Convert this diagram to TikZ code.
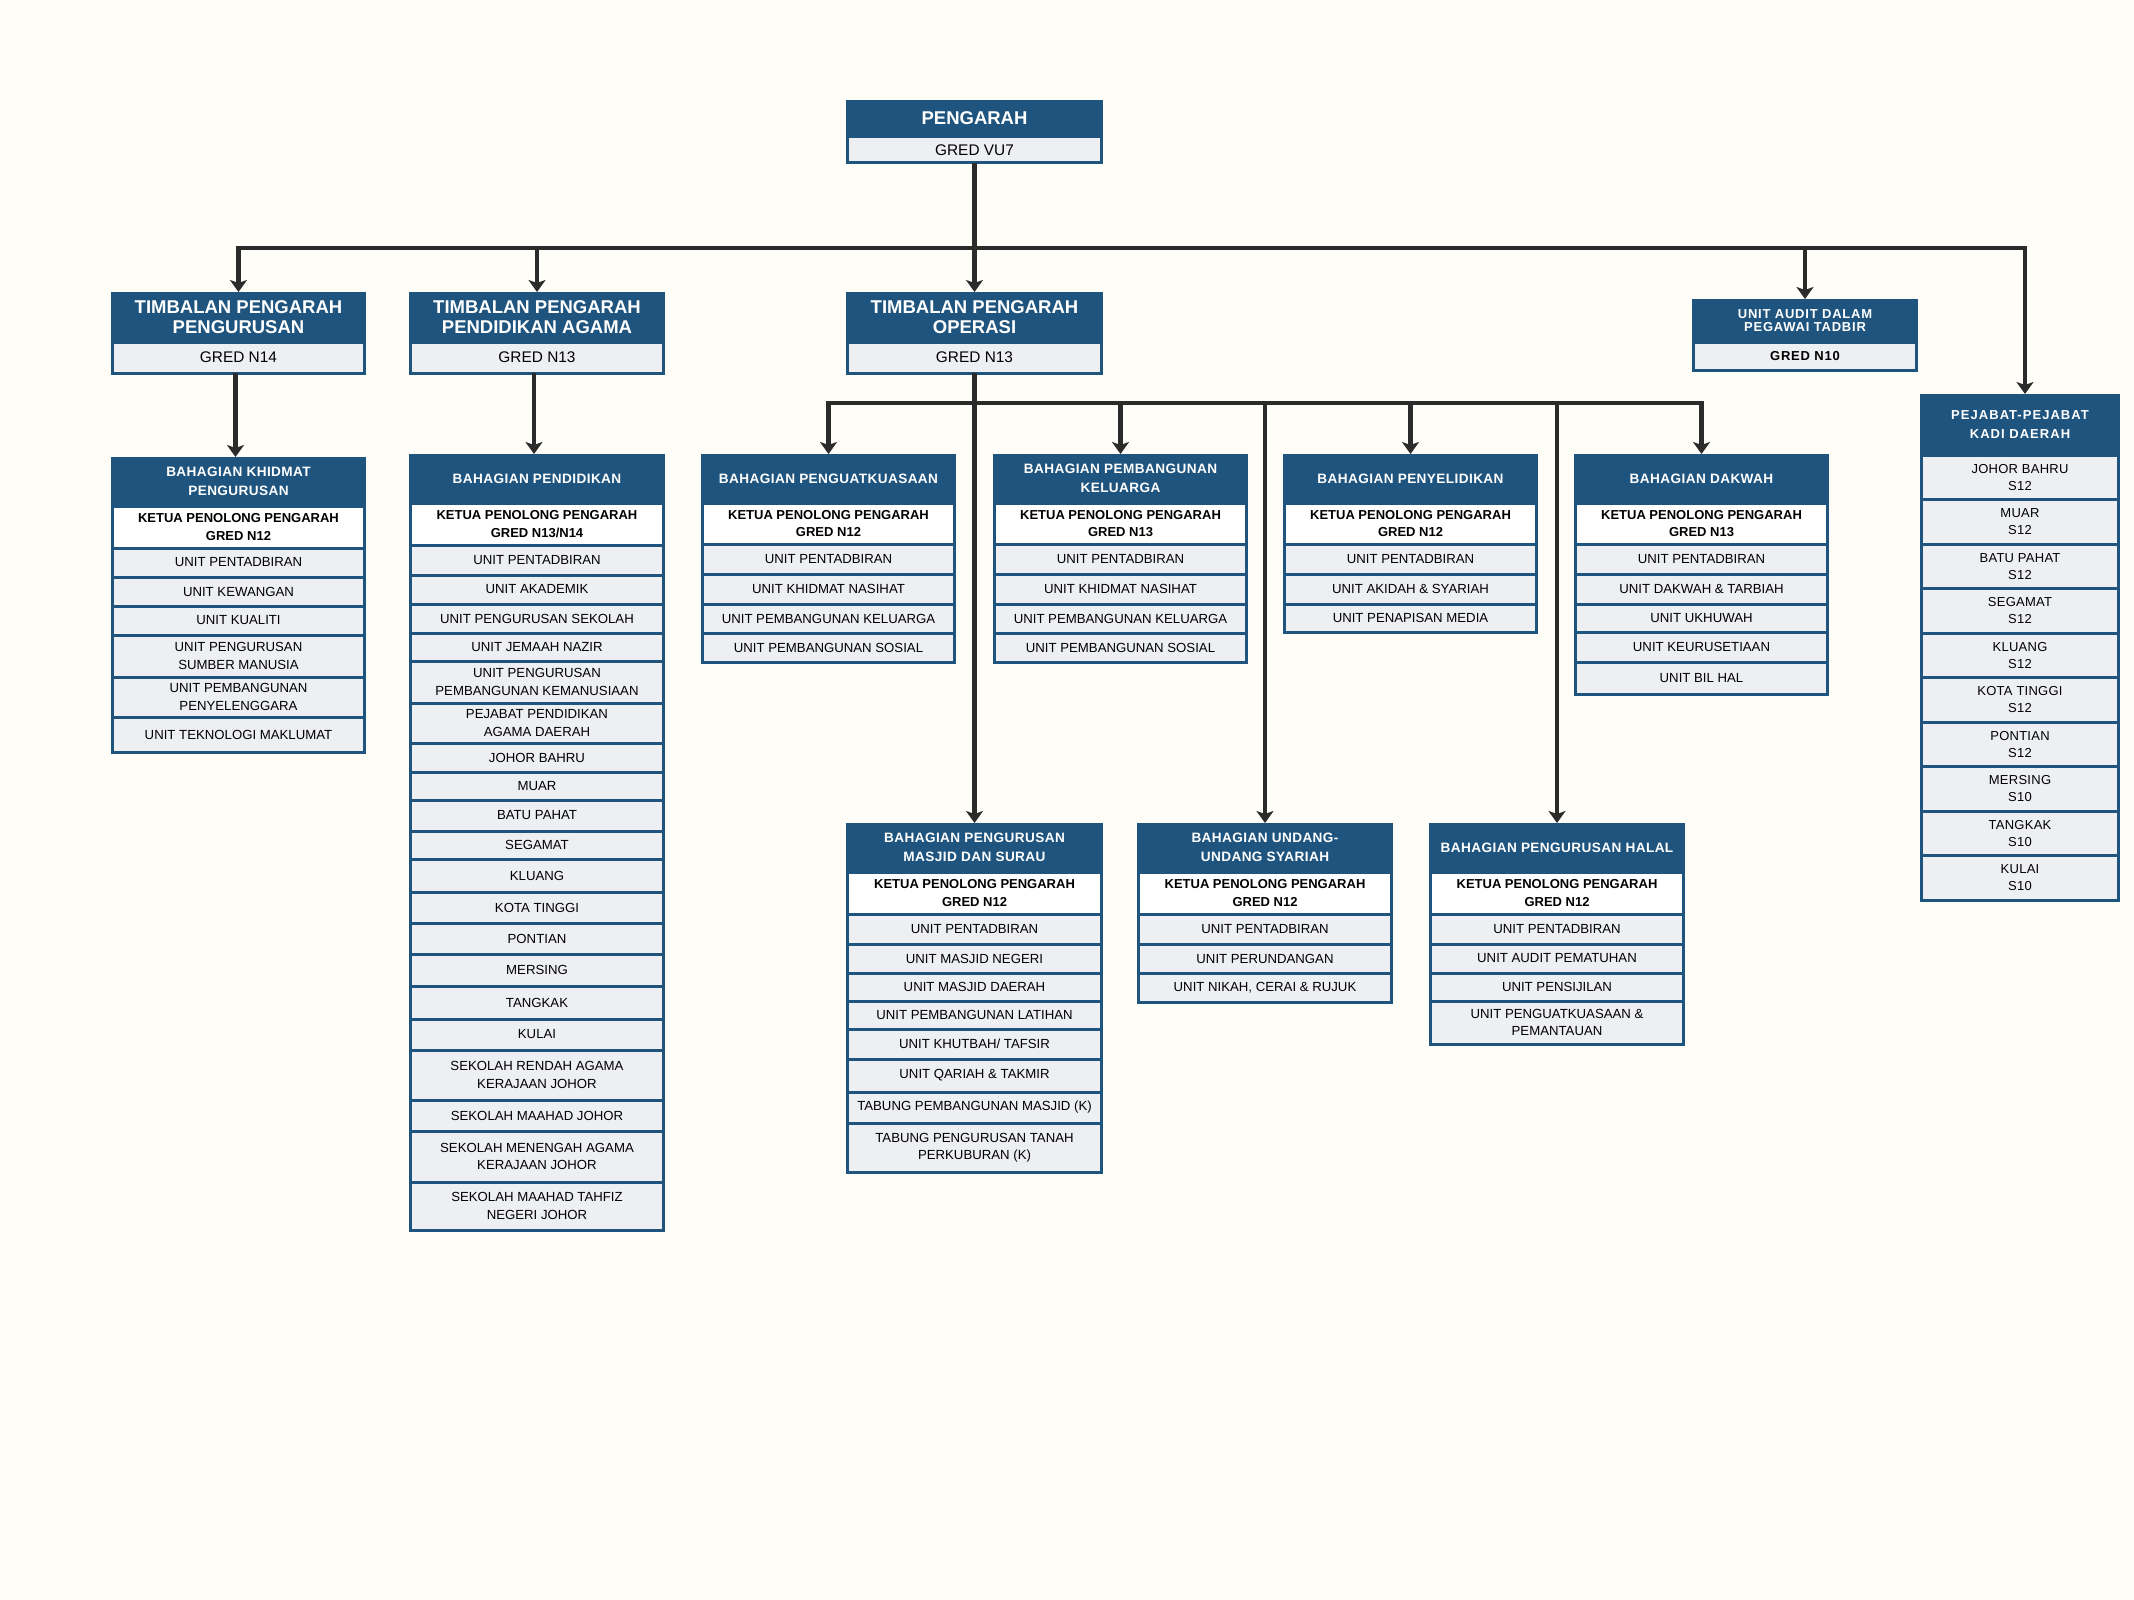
\documentclass[tikz,border=0pt]{standalone}
\usepackage{fontspec}
\setmainfont{Liberation Sans}
\usetikzlibrary{arrows.meta}
\definecolor{dblue}{HTML}{1E547E}
\definecolor{rowgray}{HTML}{EEEFF2}
\definecolor{bgc}{HTML}{FFFDF7}
\definecolor{lnc}{HTML}{2B2B2B}
\newcommand\ftop{\fontsize{18.5}{20}\selectfont\bfseries}
\newcommand\fgred{\fontsize{15.4}{17}\selectfont}
\newcommand\fdiv{\fontsize{13.6}{19.5}\selectfont\bfseries\addfontfeature{LetterSpace=3}}
\newcommand\fket{\fontsize{13}{17.5}\selectfont\bfseries}
\newcommand\frow{\fontsize{13.2}{17.5}\selectfont}
\newcommand\fsm{\fontsize{13}{13.5}\selectfont\bfseries\addfontfeature{LetterSpace=6}}
\newcommand\fkh{\fontsize{13}{19}\selectfont\bfseries\addfontfeature{LetterSpace=8}}
\newcommand\fkadi{\fontsize{13}{17}\selectfont\addfontfeature{LetterSpace=2}}
\newcommand\rowcell[7]{\node[#1, minimum width={(#4-#3-3)*1pt}, minimum height={(#6-#5)*1pt}] (#2) at ({(#3+#4)/2},{(#5+#6)/2}) {#7};}
\newcommand\hdcell[7]{\node[#1, minimum width={(#4-#3)*1pt}, minimum height={(#6-#5)*1pt}] (#2) at ({(#3+#4)/2},{(#5+#6)/2}) {#7};}
\begin{document}
\begin{tikzpicture}[x=1pt,y=-1pt,
  rowg/.style={draw=dblue, line width=3pt, fill=rowgray, inner sep=0pt, outer sep=0pt, align=center, text=black, font=\frow},
  roww/.style={rowg, fill=white, font=\fket},
  grd/.style={rowg, font=\fgred},
  grdsm/.style={rowg, font=\fsm},
  kadirow/.style={rowg, font=\fkadi},
  hdbase/.style={fill=dblue, inner sep=0pt, outer sep=0pt, align=center, text=white},
  hdtop/.style={hdbase, font=\ftop},
  hddiv/.style={hdbase, font=\fdiv},
  hdsm/.style={hdbase, font=\fsm},
  hdkadi/.style={hdbase, font=\fkh},
  arr/.style={draw=lnc, line width=4.5pt, -{Stealth[length=12pt,width=17pt,inset=3pt]}},
  ln/.style={draw=lnc, line width=4.5pt}]
\fill[bgc] (0,0) rectangle (2134,1600);
\useasboundingbox (0,0) rectangle (2134,1600);

\coordinate (b1) at (974.5,248);
\coordinate (b2) at (974.5,403);

% ---------- PENGARAH ----------
\hdcell{hdtop}{pgh}{846}{1103}{100}{137}{PENGARAH}
\rowcell{grd}{pgg}{846}{1103}{137}{163}{GRED VU7}

% ---------- TIMBALAN ----------
\hdcell{hdtop}{tp1h}{111}{366}{292}{342}{TIMBALAN PENGARAH\\PENGURUSAN}
\rowcell{grd}{tp1g}{111}{366}{342}{373}{GRED N14}
\hdcell{hdtop}{tp2h}{409}{665}{292}{342}{TIMBALAN PENGARAH\\PENDIDIKAN AGAMA}
\rowcell{grd}{tp2g}{409}{665}{342}{373}{GRED N13}
\hdcell{hdtop}{tp3h}{846}{1103}{292}{342}{TIMBALAN PENGARAH\\OPERASI}
\rowcell{grd}{tp3g}{846}{1103}{342}{373}{GRED N13}

% ---------- UNIT AUDIT ----------
\hdcell{hdsm}{auh}{1692}{1918}{299}{342}{UNIT AUDIT DALAM\\PEGAWAI TADBIR}
\rowcell{grdsm}{aug}{1692}{1918}{342}{370}{GRED N10}

% ---------- KADI ----------
\hdcell{hdkadi}{kdh}{1920}{2120}{394}{455}{PEJABAT-PEJABAT\\KADI DAERAH}
\rowcell{kadirow}{kd1}{1920}{2120}{455}{499.5}{JOHOR BAHRU\\S12}
\rowcell{kadirow}{kd2}{1920}{2120}{499.5}{544}{MUAR\\S12}
\rowcell{kadirow}{kd3}{1920}{2120}{544}{588.5}{BATU PAHAT\\S12}
\rowcell{kadirow}{kd4}{1920}{2120}{588.5}{633}{SEGAMAT\\S12}
\rowcell{kadirow}{kd5}{1920}{2120}{633}{677.5}{KLUANG\\S12}
\rowcell{kadirow}{kd6}{1920}{2120}{677.5}{722}{KOTA TINGGI\\S12}
\rowcell{kadirow}{kd7}{1920}{2120}{722}{766.5}{PONTIAN\\S12}
\rowcell{kadirow}{kd8}{1920}{2120}{766.5}{811}{MERSING\\S10}
\rowcell{kadirow}{kd9}{1920}{2120}{811}{855.5}{TANGKAK\\S10}
\rowcell{kadirow}{kd10}{1920}{2120}{855.5}{900}{KULAI\\S10}

% ---------- KHIDMAT PENGURUSAN ----------
\hdcell{hddiv}{khh}{111}{366}{457}{506}{BAHAGIAN KHIDMAT\\PENGURUSAN}
\rowcell{roww}{kh0}{111}{366}{506}{548}{KETUA PENOLONG PENGARAH\\GRED N12}
\rowcell{rowg}{kh1}{111}{366}{548}{577}{UNIT PENTADBIRAN}
\rowcell{rowg}{kh2}{111}{366}{577}{606}{UNIT KEWANGAN}
\rowcell{rowg}{kh3}{111}{366}{606}{635}{UNIT KUALITI}
\rowcell{rowg}{kh4}{111}{366}{635}{677}{UNIT PENGURUSAN\\SUMBER MANUSIA}
\rowcell{rowg}{kh5}{111}{366}{677}{717}{UNIT PEMBANGUNAN\\PENYELENGGARA}
\rowcell{rowg}{kh6}{111}{366}{717}{752}{UNIT TEKNOLOGI MAKLUMAT}

% ---------- PENDIDIKAN ----------
\hdcell{hddiv}{pdh}{409}{665}{454}{503}{BAHAGIAN PENDIDIKAN}
\rowcell{roww}{pd0}{409}{665}{503}{545}{KETUA PENOLONG PENGARAH\\GRED N13/N14}
\rowcell{rowg}{pd1}{409}{665}{545}{575}{UNIT PENTADBIRAN}
\rowcell{rowg}{pd2}{409}{665}{575}{604}{UNIT AKADEMIK}
\rowcell{rowg}{pd3}{409}{665}{604}{633}{UNIT PENGURUSAN SEKOLAH}
\rowcell{rowg}{pd4}{409}{665}{633}{661}{UNIT JEMAAH NAZIR}
\rowcell{rowg}{pd5}{409}{665}{661}{703}{UNIT PENGURUSAN\\PEMBANGUNAN KEMANUSIAAN}
\rowcell{rowg}{pd6}{409}{665}{703}{743}{PEJABAT PENDIDIKAN\\AGAMA DAERAH}
\rowcell{rowg}{pd7}{409}{665}{743}{772}{JOHOR BAHRU}
\rowcell{rowg}{pd8}{409}{665}{772}{800}{MUAR}
\rowcell{rowg}{pd9}{409}{665}{800}{831}{BATU PAHAT}
\rowcell{rowg}{pd10}{409}{665}{831}{859}{SEGAMAT}
\rowcell{rowg}{pd11}{409}{665}{859}{892}{KLUANG}
\rowcell{rowg}{pd12}{409}{665}{892}{923}{KOTA TINGGI}
\rowcell{rowg}{pd13}{409}{665}{923}{954}{PONTIAN}
\rowcell{rowg}{pd14}{409}{665}{954}{986}{MERSING}
\rowcell{rowg}{pd15}{409}{665}{986}{1019}{TANGKAK}
\rowcell{rowg}{pd16}{409}{665}{1019}{1050}{KULAI}
\rowcell{rowg}{pd17}{409}{665}{1050}{1100}{SEKOLAH RENDAH AGAMA\\KERAJAAN JOHOR}
\rowcell{rowg}{pd18}{409}{665}{1100}{1131}{SEKOLAH MAAHAD JOHOR}
\rowcell{rowg}{pd19}{409}{665}{1131}{1182}{SEKOLAH MENENGAH AGAMA\\KERAJAAN JOHOR}
\rowcell{rowg}{pd20}{409}{665}{1182}{1230}{SEKOLAH MAAHAD TAHFIZ\\NEGERI JOHOR}

% ---------- PENGUATKUASAAN ----------
\hdcell{hddiv}{pkh}{701}{956}{454}{503}{BAHAGIAN PENGUATKUASAAN}
\rowcell{roww}{pk0}{701}{956}{503}{544}{KETUA PENOLONG PENGARAH\\GRED N12}
\rowcell{rowg}{pk1}{701}{956}{544}{574}{UNIT PENTADBIRAN}
\rowcell{rowg}{pk2}{701}{956}{574}{604}{UNIT KHIDMAT NASIHAT}
\rowcell{rowg}{pk3}{701}{956}{604}{633}{UNIT PEMBANGUNAN KELUARGA}
\rowcell{rowg}{pk4}{701}{956}{633}{662}{UNIT PEMBANGUNAN SOSIAL}

% ---------- PEMBANGUNAN KELUARGA ----------
\hdcell{hddiv}{klh}{993}{1248}{454}{503}{BAHAGIAN PEMBANGUNAN\\KELUARGA}
\rowcell{roww}{kl0}{993}{1248}{503}{544}{KETUA PENOLONG PENGARAH\\GRED N13}
\rowcell{rowg}{kl1}{993}{1248}{544}{574}{UNIT PENTADBIRAN}
\rowcell{rowg}{kl2}{993}{1248}{574}{604}{UNIT KHIDMAT NASIHAT}
\rowcell{rowg}{kl3}{993}{1248}{604}{633}{UNIT PEMBANGUNAN KELUARGA}
\rowcell{rowg}{kl4}{993}{1248}{633}{662}{UNIT PEMBANGUNAN SOSIAL}

% ---------- PENYELIDIKAN ----------
\hdcell{hddiv}{pyh}{1283}{1538}{454}{503}{BAHAGIAN PENYELIDIKAN}
\rowcell{roww}{py0}{1283}{1538}{503}{544}{KETUA PENOLONG PENGARAH\\GRED N12}
\rowcell{rowg}{py1}{1283}{1538}{544}{574}{UNIT PENTADBIRAN}
\rowcell{rowg}{py2}{1283}{1538}{574}{604}{UNIT AKIDAH \& SYARIAH}
\rowcell{rowg}{py3}{1283}{1538}{604}{632}{UNIT PENAPISAN MEDIA}

% ---------- DAKWAH ----------
\hdcell{hddiv}{dkh}{1574}{1829}{454}{503}{BAHAGIAN DAKWAH}
\rowcell{roww}{dk0}{1574}{1829}{503}{544}{KETUA PENOLONG PENGARAH\\GRED N13}
\rowcell{rowg}{dk1}{1574}{1829}{544}{574}{UNIT PENTADBIRAN}
\rowcell{rowg}{dk2}{1574}{1829}{574}{604}{UNIT DAKWAH \& TARBIAH}
\rowcell{rowg}{dk3}{1574}{1829}{604}{632}{UNIT UKHUWAH}
\rowcell{rowg}{dk4}{1574}{1829}{632}{662}{UNIT KEURUSETIAAN}
\rowcell{rowg}{dk5}{1574}{1829}{662}{694}{UNIT BIL HAL}

% ---------- MASJID ----------
\hdcell{hddiv}{msh}{846}{1103}{823}{872}{BAHAGIAN PENGURUSAN\\MASJID DAN SURAU}
\rowcell{roww}{ms0}{846}{1103}{872}{914}{KETUA PENOLONG PENGARAH\\GRED N12}
\rowcell{rowg}{ms1}{846}{1103}{914}{944}{UNIT PENTADBIRAN}
\rowcell{rowg}{ms2}{846}{1103}{944}{973}{UNIT MASJID NEGERI}
\rowcell{rowg}{ms3}{846}{1103}{973}{1001}{UNIT MASJID DAERAH}
\rowcell{rowg}{ms4}{846}{1103}{1001}{1029}{UNIT PEMBANGUNAN LATIHAN}
\rowcell{rowg}{ms5}{846}{1103}{1029}{1059}{UNIT KHUTBAH/ TAFSIR}
\rowcell{rowg}{ms6}{846}{1103}{1059}{1092}{UNIT QARIAH \& TAKMIR}
\rowcell{rowg}{ms7}{846}{1103}{1092}{1123}{TABUNG PEMBANGUNAN MASJID (K)}
\rowcell{rowg}{ms8}{846}{1103}{1123}{1172}{TABUNG PENGURUSAN TANAH\\PERKUBURAN (K)}

% ---------- UNDANG-UNDANG ----------
\hdcell{hddiv}{uuh}{1137}{1393}{823}{872}{BAHAGIAN UNDANG-\\UNDANG SYARIAH}
\rowcell{roww}{uu0}{1137}{1393}{872}{914}{KETUA PENOLONG PENGARAH\\GRED N12}
\rowcell{rowg}{uu1}{1137}{1393}{914}{944}{UNIT PENTADBIRAN}
\rowcell{rowg}{uu2}{1137}{1393}{944}{973}{UNIT PERUNDANGAN}
\rowcell{rowg}{uu3}{1137}{1393}{973}{1002}{UNIT NIKAH, CERAI \& RUJUK}

% ---------- HALAL ----------
\hdcell{hddiv}{hlh}{1429}{1685}{823}{872}{BAHAGIAN PENGURUSAN HALAL}
\rowcell{roww}{hl0}{1429}{1685}{872}{914}{KETUA PENOLONG PENGARAH\\GRED N12}
\rowcell{rowg}{hl1}{1429}{1685}{914}{944}{UNIT PENTADBIRAN}
\rowcell{rowg}{hl2}{1429}{1685}{944}{973}{UNIT AUDIT PEMATUHAN}
\rowcell{rowg}{hl3}{1429}{1685}{973}{1001}{UNIT PENSIJILAN}
\rowcell{rowg}{hl4}{1429}{1685}{1001}{1044}{UNIT PENGUATKUASAAN \&\\PEMANTAUAN}

% ---------- connectors ----------
\draw[arr] (pgg.south) -- (tp3h.north);
\draw[arr] (b1) -| (tp1h.north);
\draw[arr] (b1) -| (tp2h.north);
\draw[arr] (b1) -| (auh.north);
\draw[arr] (b1) -| ([xshift=5pt]kdh.north);
\draw[arr] ([xshift=-3pt]tp1g.south) -- ([xshift=-3pt]khh.north);
\draw[arr] ([xshift=-3pt]tp2g.south) -- ([xshift=-3pt]pdh.north);
\draw[arr] (tp3g.south) -- (msh.north);
\draw[arr] (b2) -| (pkh.north);
\draw[arr] (b2) -| (klh.north);
\draw[arr] (b2) -| (uuh.north);
\draw[arr] (b2) -| (pyh.north);
\draw[arr] (b2) -| (hlh.north);
\draw[arr] (b2) -| (dkh.north);
\end{tikzpicture}
\end{document}
